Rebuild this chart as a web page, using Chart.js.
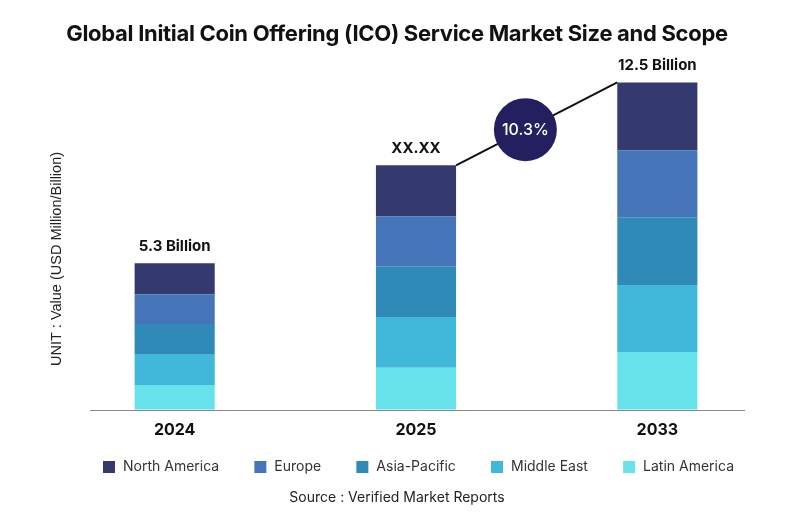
<!DOCTYPE html>
<html>
<head>
<meta charset="utf-8">
<script src="https://cdn.jsdelivr.net/npm/chart.js@4.4.1/dist/chart.umd.min.js"></script>
<style>
  html, body { margin: 0; padding: 0; background: #fff; }
  #wrap { width: 794px; height: 527px; }
</style>
</head>
<body>
<div id="wrap"><canvas id="chart"></canvas></div>
<script>
const years = ["2024", "2025", "2033"];
const regions = ["North America", "Europe", "Asia-Pacific", "Middle East", "Latin America"];
const northAmerica = [1.18, 1.94, 2.59];
const europe = [1.14, 1.91, 2.55];
const asiaPacific = [1.14, 1.94, 2.59];
const middleEast = [1.18, 1.94, 2.55];
const latinAmerica = [0.95, 1.60, 2.21];
const topLabels = ["5.3 Billion", "XX.XX", "12.5 Billion"];
const cagrText = "10.3%";
const colors = ["#353a6e", "#4575b8", "#2f8ab8", "#41b7d9", "#67e2ea"];

// Latin America sits at the base of each stack
const seriesList = [northAmerica, europe, asiaPacific, middleEast, latinAmerica];
const datasets = regions.map((name, i) => ({
  label: name,
  data: seriesList[i],
  backgroundColor: colors[i],
  stack: "s",
  barPercentage: 1,
  categoryPercentage: 0.332,
})).reverse();

const extras = {
  id: "extras",
  afterDraw(chart) {
    const c = chart.ctx;
    const x = chart.scales.x, y = chart.scales.y;
    c.save();
    c.textBaseline = "middle";
    // title
    c.fillStyle = "#111";
    c.font = "bold 22px Inter";
    c.textAlign = "center";
    c.letterSpacing = "-0.3px";
    c.fillText("Global Initial Coin Offering (ICO) Service Market Size and Scope", 397, 34);
    c.letterSpacing = "0px";
    // baseline
    const y0 = y.getPixelForValue(0);
    c.strokeStyle = "#8a8a8a";
    c.lineWidth = 1;
    c.beginPath();
    c.moveTo(90, Math.round(y0) + 0.5);
    c.lineTo(745, Math.round(y0) + 0.5);
    c.stroke();
    // labels on top of bars
    const meta = chart.getDatasetMeta(0);
    const tops = years.map((_, i) => {
      let s = 0;
      seriesList.forEach(arr => s += arr[i]);
      return y.getPixelForValue(s);
    });
    const half = meta.data[0].width / 2;
    c.font = "bold 15px Inter";
    c.fillStyle = "#111";
    years.forEach((_, i) => {
      c.fillText(topLabels[i], x.getPixelForValue(i), tops[i] - 17);
    });
    // connector line with CAGR bubble
    const x1 = x.getPixelForValue(1) + half, y1 = tops[1];
    const x2 = x.getPixelForValue(2) - half, y2 = tops[2];
    c.strokeStyle = "#111";
    c.lineWidth = 2;
    c.beginPath();
    c.moveTo(x1, y1);
    c.lineTo(x2, y2);
    c.stroke();
    const t = 0.43;
    const cx = x1 + (x2 - x1) * t, cy = y1 + (y2 - y1) * t;
    c.fillStyle = "#241f5f";
    c.beginPath();
    c.arc(cx, cy, 31.5, 0, Math.PI * 2);
    c.fill();
    c.fillStyle = "#fff";
    c.font = "500 16px Inter";
    c.fillText(cagrText, cx, cy + 1);
    // y axis title
    c.save();
    c.translate(57, 259);
    c.rotate(-Math.PI / 2);
    c.fillStyle = "#222";
    c.font = "14.5px 'Liberation Sans'";
    c.fillText("UNIT : Value (USD Million/Billion)", 0, 0);
    c.restore();
    // legend
    c.font = "14px Inter";
    c.textAlign = "left";
    const widths = regions.map(r => 20 + c.measureText(r).width);
    const gap = (631 - widths.reduce((a, b) => a + b, 0)) / (regions.length - 1);
    let lx = 103;
    regions.forEach((r, i) => {
      c.fillStyle = colors[i];
      c.fillRect(lx, 461, 12, 12);
      c.fillStyle = "#333";
      c.fillText(r, lx + 20, 467);
      lx += widths[i] + gap;
    });
    // source
    c.textAlign = "center";
    c.fillStyle = "#222";
    c.font = "14px Inter";
    c.fillText("Source : Verified Market Reports", 397, 498);
    c.restore();
  }
};

new Chart(document.getElementById("chart"), {
  type: "bar",
  data: { labels: years, datasets: datasets },
  options: {
    responsive: true,
    maintainAspectRatio: false,
    animation: false,
    layout: { padding: { left: 54, right: 16, top: 56, bottom: 84 } },
    plugins: {
      title: { display: false },
      tooltip: { enabled: false },
      legend: { display: false },
    },
    scales: {
      x: {
        stacked: true,
        grid: { display: false },
        border: { display: false },
        ticks: { color: "#111", font: { family: "Inter", size: 16, weight: "bold" }, padding: 3 },
      },
      y: {
        stacked: true,
        display: false,
        min: 0,
        max: 13.5,
      },
    },
  },
  plugins: [extras],
});
</script>
</body>
</html>
